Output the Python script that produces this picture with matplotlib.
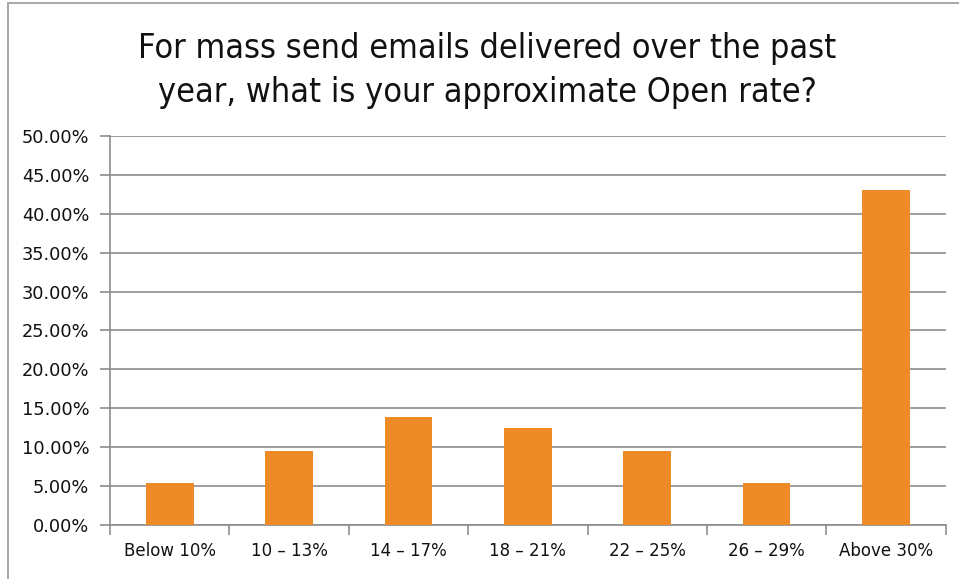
import matplotlib.pyplot as plt
import matplotlib.patches as mpatches
from matplotlib.ticker import MultipleLocator, FuncFormatter

categories = ['Below 10%', '10 – 13%', '14 – 17%', '18 – 21%', '22 – 25%', '26 – 29%', 'Above 30%']
open_rate = [5.41, 9.46, 13.9, 12.5, 9.46, 5.41, 43.1]

bar_color = '#EE8B27'
grid_color = '#8C8C8C'

fig = plt.figure(figsize=(9.59, 5.79), dpi=100)
ax = fig.add_axes([0.1147, 0.0933, 0.8714, 0.6718])

# outer chart border
fig.patches.append(mpatches.Rectangle((8/959, -0.01), 2, 1 - 3/579 + 0.01,
                                      transform=fig.transFigure, fill=False,
                                      edgecolor='#A0A0A0', linewidth=1.3))

x = range(len(categories))
ax.bar(x, open_rate, width=0.4, color=bar_color, zorder=3)

ax.set_xlim(-0.5, len(categories) - 0.5)
ax.set_ylim(0, 50)
ax.yaxis.set_major_locator(MultipleLocator(5))
ax.yaxis.set_major_formatter(FuncFormatter(lambda v, p: '%.2f%%' % v))
ax.grid(axis='y', color=grid_color, linewidth=1.2, zorder=0)

ax.set_xticks(list(x))
ax.set_xticklabels(categories)
ax.set_xticks([i - 0.5 for i in range(len(categories) + 1)], minor=True)
ax.tick_params(axis='x', which='major', length=0, pad=12, labelsize=12, labelcolor='#111111')
ax.tick_params(axis='x', which='minor', length=7, color=grid_color, width=1.2)
ax.tick_params(axis='y', length=7, color=grid_color, width=1.2, labelsize=12.8, pad=8,
               labelcolor='#111111')

for s in ['top', 'right']:
    ax.spines[s].set_visible(False)
for s in ['left', 'bottom']:
    ax.spines[s].set_color(grid_color)
    ax.spines[s].set_linewidth(1.2)

fig.text(0.508, 0.878, 'For mass send emails delivered over the past\nyear, what is your approximate Open rate?',
         ha='center', va='center', fontsize=24.5, linespacing=1.4,
         fontstretch='condensed', color='#111111')

fig.savefig('out.png', dpi=100)
